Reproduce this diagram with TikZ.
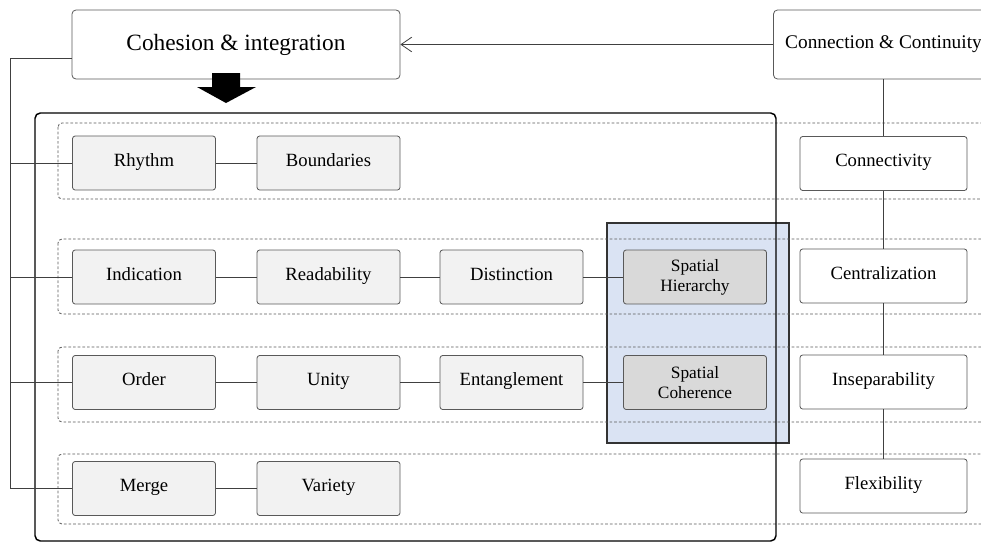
\documentclass[tikz,border=0pt]{standalone}
\usepackage{fontspec}
\setmainfont{Liberation Serif}
\usetikzlibrary{arrows.meta,positioning,calc,shapes}

\definecolor{boxgray}{HTML}{F2F2F2}
\definecolor{spgray}{HTML}{D9D9D9}
\definecolor{hlblue}{HTML}{DAE3F3}
\definecolor{linegray}{HTML}{595959}

\tikzset{
  item/.style={draw=linegray,line width=0.6pt,rounded corners=2pt,fill=boxgray,
    minimum width=107.25pt,minimum height=40.5pt,inner sep=0pt,
    text height=0.72em,text depth=0.22em,
    font=\fontsize{14}{16}\selectfont},
  spatial/.style={item,fill=spgray,align=center,text height=,text depth=,
    font=\fontsize{13}{15}\selectfont},
  principle/.style={item,fill=white,minimum width=125.25pt},
  headbox/.style={draw=linegray,line width=0.6pt,rounded corners=3pt,fill=white,inner sep=0pt},
  link/.style={draw=black!75,line width=0.6pt},
  band/.style={draw=black!65,line width=0.6pt,dash pattern=on 2pt off 1.5pt,rounded corners=3pt},
}

\begin{document}
\begin{tikzpicture}[x=0.75pt,y=-0.75pt]
  \clip (0,0) rectangle (981,543);

  % highlighted spatial column
  \draw[fill=hlblue,draw=black!80,line width=1pt] (607,223) rectangle (789,443);

  % dashed rows
  \draw[band] (58,123) rectangle (1000,199);
  \draw[band] (58,239) rectangle (1000,314);
  \draw[band] (58,347) rectangle (1000,422);
  \draw[band] (58,454) rectangle (1000,524);

  % big frame
  \draw[line width=1.1pt,rounded corners=4pt] (35,113) rectangle (776,541);

  % heads
  \node[headbox,minimum width=246pt,minimum height=51.75pt,font=\fontsize{17.5}{20}\selectfont]
    (coh) at (236,44.5) {Cohesion \& integration};
  \node[headbox,minimum width=165pt,minimum height=51.75pt,font=\fontsize{14.5}{17}\selectfont]
    (conn) at (883.5,44.5) {Connection \& Continuity};

  % block arrow
  \fill (212,73) -- (240,73) -- (240,87) -- (256,87) -- (226,103) -- (197,87) -- (212,87) -- cycle;

  % row items
  \node[item] (rhythm) at (144,163) {Rhythm};
  \node[item] (bound) at (328.5,163) {Boundaries};

  \node[item] (indic) at (144,277) {Indication};
  \node[item] (read) at (328.5,277) {Readability};
  \node[item] (dist) at (511.5,277) {Distinction};
  \node[spatial] (hier) at (695,277) {Spatial\\Hierarchy};

  \node[item] (order) at (144,382.5) {Order};
  \node[item] (unity) at (328.5,382.5) {Unity};
  \node[item] (entang) at (511.5,382.5) {Entanglement};
  \node[spatial] (coher) at (695,382.5) {Spatial\\Coherence};

  \node[item] (merge) at (144,488.5) {Merge};
  \node[item] (variety) at (328.5,488.5) {Variety};

  % principles
  \node[principle] (cnty) at (883.5,163.5) {Connectivity};
  \node[principle] (cent) at (883.5,276) {Centralization};
  \node[principle] (insep) at (883.5,382) {Inseparability};
  \node[principle] (flex) at (883.5,486) {Flexibility};

  % links in rows
  \draw[link] (rhythm) -- (bound);
  \draw[link] (indic) -- (read) -- (dist) -- (hier);
  \draw[link] (order) -- (unity) -- (entang) -- (coher);
  \draw[link] (merge) -- (variety);

  % spine on the left
  \coordinate (spine) at (10,58);
  \draw[link] (coh.west |- spine) -- (spine) |- (merge.west);
  \draw[link] (rhythm.west) -- (rhythm.west -| spine);
  \draw[link] (indic.west) -- (indic.west -| spine);
  \draw[link] (order.west) -- (order.west -| spine);

  % right column
  \draw[link] (conn) -- (cnty) -- (cent) -- (insep) -- (flex);
  \draw[link,-{Straight Barb[length=8pt,width=11pt]}] (conn.west) -- (coh.east);
\end{tikzpicture}
\end{document}
